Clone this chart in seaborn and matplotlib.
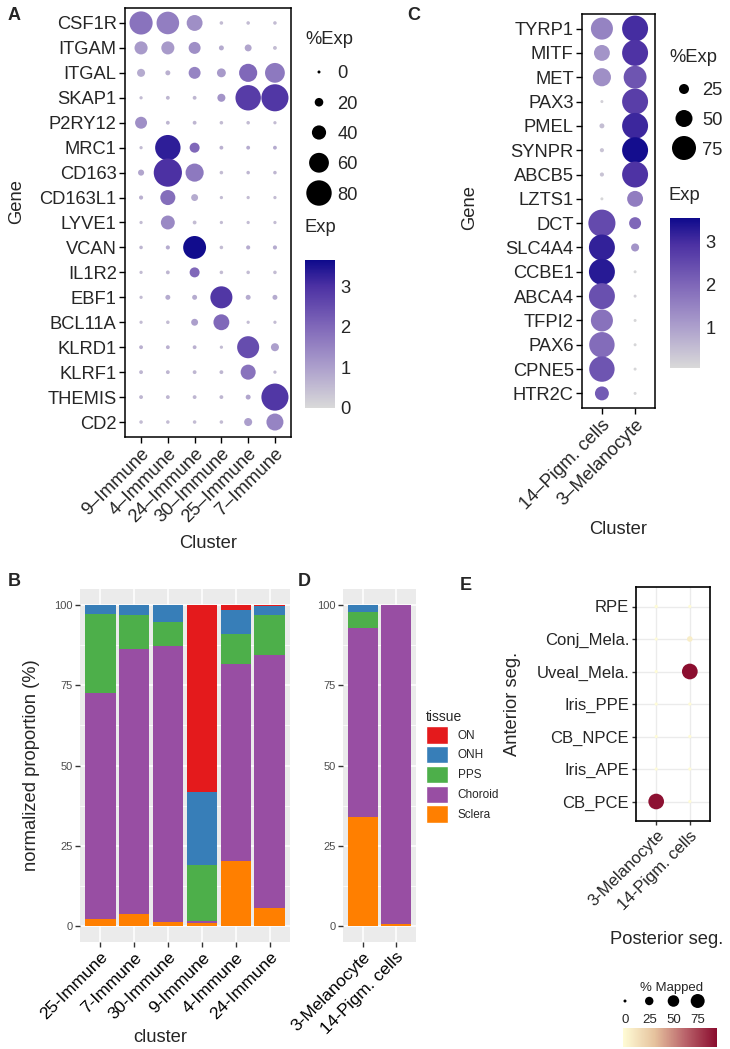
import numpy as np
import pandas as pd
import seaborn as sns
import matplotlib.pyplot as plt
from matplotlib.colors import LinearSegmentedColormap, Normalize
from matplotlib.cm import ScalarMappable
from matplotlib.patches import Patch

sns.set_style("white")
plt.rcParams['font.family'] = ['Liberation Sans', 'DejaVu Sans']

# ---------------- data ----------------
# A: immune marker dot plot
a_clusters = ['9–Immune', '4–Immune', '24–Immune', '30–Immune', '25–Immune', '7–Immune']
a_genes = ['CSF1R', 'ITGAM', 'ITGAL', 'SKAP1', 'P2RY12', 'MRC1', 'CD163', 'CD163L1',
           'LYVE1', 'VCAN', 'IL1R2', 'EBF1', 'BCL11A', 'KLRD1', 'KLRF1', 'THEMIS', 'CD2']
a_pct = [
    [72, 70, 46, 2, 2, 2],
    [36, 36, 32, 7, 14, 3],
    [18, 7, 32, 21, 54, 60],
    [1, 3, 3, 18, 80, 86],
    [32, 3, 3, 2, 2, 1],
    [1, 80, 25, 3, 3, 3],
    [11, 90, 54, 2, 2, 2],
    [4, 43, 14, 1, 1, 1],
    [1, 39, 3, 1, 1, 1],
    [2, 4, 71, 2, 4, 4],
    [1, 3, 25, 2, 2, 2],
    [1, 7, 7, 68, 7, 7],
    [1, 2, 14, 46, 1, 1],
    [3, 3, 3, 1, 68, 18],
    [3, 3, 3, 3, 43, 1],
    [3, 3, 3, 3, 7, 86],
    [2, 2, 2, 2, 18, 50],
]
a_exp = [
    [1.8, 1.6, 1.3, 0.5, 0.5, 0.5],
    [1.1, 1.1, 1.3, 0.8, 0.9, 0.5],
    [0.8, 0.7, 1.5, 1.1, 2.0, 1.7],
    [0.5, 0.6, 0.6, 1.2, 2.8, 2.9],
    [1.3, 0.6, 0.6, 0.5, 0.5, 0.5],
    [0.5, 3.3, 2.0, 0.7, 0.8, 0.8],
    [0.9, 3.0, 1.7, 0.5, 0.6, 0.6],
    [0.7, 1.9, 0.8, 0.5, 0.5, 0.5],
    [0.5, 1.4, 0.5, 0.5, 0.5, 0.5],
    [0.6, 0.8, 3.6, 0.5, 0.8, 0.8],
    [0.5, 0.6, 2.0, 0.5, 0.5, 0.5],
    [0.5, 0.8, 0.8, 2.9, 0.8, 0.8],
    [0.5, 0.5, 1.0, 2.0, 0.5, 0.5],
    [0.7, 0.7, 0.7, 0.5, 2.5, 1.0],
    [0.6, 0.6, 0.6, 0.6, 1.8, 0.5],
    [0.6, 0.6, 0.6, 0.6, 0.9, 2.9],
    [0.5, 0.5, 0.5, 0.5, 1.0, 1.5],
]
a_size_breaks = [0, 20, 40, 60, 80]
a_exp_ticks = [0, 1, 2, 3]

# C: pigment cell marker dot plot
c_clusters = ['14–Pigm. cells', '3–Melanocyte']
c_genes = ['TYRP1', 'MITF', 'MET', 'PAX3', 'PMEL', 'SYNPR', 'ABCB5', 'LZTS1', 'DCT',
           'SLC4A4', 'CCBE1', 'ABCA4', 'TFPI2', 'PAX6', 'CPNE5', 'HTR2C']
c_pct_pigm = [68, 46, 54, 0, 7, 4, 4, 0, 86, 82, 82, 82, 68, 80, 80, 39]
c_pct_mel = [82, 82, 71, 82, 82, 82, 82, 46, 32, 18, 0, 0, 0, 0, 0, 0]
c_exp_pigm = [1.5, 1.2, 1.3, 0.2, 0.5, 0.4, 0.4, 0.1, 2.5, 3.2, 3.3, 2.4, 1.8, 1.9, 2.3, 2.2]
c_exp_mel = [3.0, 2.9, 2.3, 2.7, 3.1, 3.5, 2.9, 1.6, 2.0, 1.2, 0.1, 0.2, 0.1, 0.1, 0.1, 0.1]
c_size_breaks = [25, 50, 75]
c_exp_ticks = [1, 2, 3]

# B / D: tissue proportions
tissues = ['ON', 'ONH', 'PPS', 'Choroid', 'Sclera']
tissue_colors = ['#E41A1C', '#377EB8', '#4DAF4A', '#984EA3', '#FF7F00']
b_clusters = ['25-Immune', '7-Immune', '30-Immune', '9-Immune', '4-Immune', '24-Immune']
b_on = [0.0, 0.0, 0.0, 58.3, 1.5, 0.4]
b_onh = [2.8, 3.1, 5.2, 22.6, 7.5, 2.8]
b_pps = [24.7, 10.6, 7.6, 17.7, 9.3, 12.5]
b_choroid = [70.3, 82.5, 85.9, 0.4, 61.6, 78.7]
b_sclera = [2.2, 3.8, 1.3, 1.0, 20.1, 5.6]
d_clusters = ['3-Melanocyte', '14-Pigm. cells']
d_on = [0.0, 0.0]
d_onh = [2.3, 0.0]
d_pps = [5.0, 0.0]
d_choroid = [58.6, 99.4]
d_sclera = [34.1, 0.6]

# E: mapping to anterior segment references
e_clusters = ['3-Melanocyte', '14-Pigm. cells']
e_refs = ['RPE', 'Conj_Mela.', 'Uveal_Mela.', 'Iris_PPE', 'CB_NPCE', 'Iris_APE', 'CB_PCE']
e_mel = [1.0, 0.3, 0.3, 0.3, 0.3, 0.3, 95]
e_pigm = [0.5, 9, 96, 0.5, 0.5, 0.5, 0.5]
e_size_breaks = [0, 25, 50, 75]

# ---------------- helpers ----------------
W, H = 730, 1049
fig = plt.figure(figsize=(7.3, 10.49), dpi=100)


def box(x0, y0, x1, y1):
    return [x0 / W, 1 - y1 / H, (x1 - x0) / W, (y1 - y0) / H]


def dot_area(pct):
    # radius grows linearly with percent (like scale_radius)
    d_px = 3 + 0.28 * np.asarray(pct, float)
    return (d_px * 0.72) ** 2


def map_area(pct):
    # area grows linearly with percent (like scale_size)
    d_px = np.sqrt(9 + 2.48 * np.asarray(pct, float))
    return (d_px * 0.72) ** 2


EXP_MAX = 3.64
exp_cmap = LinearSegmentedColormap.from_list(
    'exp', [(0, '#D9D9D9'), (1 / EXP_MAX, '#AC9FCC'), (2 / EXP_MAX, '#8068B9'),
            (3 / EXP_MAX, '#4C31A3'), (1, '#0E0A8C')])
map_cmap = LinearSegmentedColormap.from_list(
    'mapped', ['#FFFCD6', '#E6C39E', '#B9626A', '#8A0C2E'])

TICK = 13.2


def dotplot(ax, df, clusters, genes, norm):
    amin, amax = df['area'].min(), df['area'].max()
    sns.scatterplot(data=df, x='cluster', y='gene', hue='exp', palette=exp_cmap,
                    hue_norm=norm, size='area', sizes=(amin, amax),
                    size_norm=(amin, amax), linewidth=0, legend=False, ax=ax)
    ax.set_xlim(-0.6, len(clusters) - 0.4)
    ax.set_ylim(len(genes) - 0.4, -0.6)
    for s in ax.spines.values():
        s.set_visible(True)
        s.set_color('black')
        s.set_linewidth(1.1)
    ax.tick_params(length=4, width=1, color='black', labelsize=TICK, pad=2,
                   left=True, bottom=True)
    plt.setp(ax.get_xticklabels(), rotation=45, ha='right', va='top',
             rotation_mode='anchor')
    ax.set_xlabel('Cluster', fontsize=TICK, labelpad=6)
    ax.set_ylabel('Gene', fontsize=TICK)


def size_legend(axbox, breaks, area_fn, ylim):
    lax = fig.add_axes(box(*axbox))
    ar = area_fn(breaks)
    sns.scatterplot(x=[0] * len(breaks), y=breaks, size=ar, sizes=(ar.min(), ar.max()),
                    size_norm=(ar.min(), ar.max()), color='black', linewidth=0,
                    legend=False, clip_on=False, ax=lax)
    lax.set_xlim(-1, 1)
    lax.set_ylim(*ylim)
    lax.set_yticks(breaks)
    lax.set_yticklabels([str(b) for b in breaks])
    lax.yaxis.tick_right()
    lax.tick_params(length=0, labelsize=TICK, pad=6)
    lax.set_xticks([])
    for s in lax.spines.values():
        s.set_visible(False)
    lax.patch.set_alpha(0)
    return lax


def colorbar_v(axbox, norm, ticks):
    cax = fig.add_axes(box(*axbox))
    cb = fig.colorbar(ScalarMappable(norm=norm, cmap=exp_cmap), cax=cax)
    cb.outline.set_visible(False)
    cb.set_ticks(ticks)
    cax.tick_params(axis='y', left=True, right=True, direction='in', color='white',
                    length=6, width=0.8, labelsize=TICK, pad=4)
    return cb


def stacked(ax, clusters, values):
    rows = []
    for i, c in enumerate(clusters):
        for t, v in zip(tissues, values):
            rows.append({'cluster': c, 'tissue': t, 'pct': v[i]})
    df = pd.DataFrame(rows)
    sns.histplot(data=df, x='cluster', hue='tissue', weights='pct', multiple='stack',
                 hue_order=tissues, palette=dict(zip(tissues, tissue_colors)),
                 discrete=True, shrink=0.9, alpha=1, linewidth=0, legend=False, ax=ax)
    ax.set_facecolor('#EBEBEB')
    ax.set_xlim(-0.6, len(clusters) - 0.4)
    ax.set_ylim(-5, 105)
    ax.set_yticks([0, 25, 50, 75, 100])
    ax.set_yticks([12.5, 37.5, 62.5, 87.5], minor=True)
    ax.set_axisbelow(True)
    ax.grid(True, which='major', color='white', linewidth=1.1)
    ax.grid(True, which='minor', axis='y', color='white', linewidth=0.55)
    for s in ax.spines.values():
        s.set_visible(False)
    ax.tick_params(which='major', length=3.5, width=1, color='#333333',
                   left=True, bottom=True)
    ax.tick_params(which='minor', length=0)
    ax.tick_params(axis='y', labelsize=8, labelcolor='#4D4D4D', pad=2)
    ax.tick_params(axis='x', labelsize=12.5, labelcolor='black', pad=2)
    plt.setp(ax.get_xticklabels(), rotation=45, ha='right', va='top',
             rotation_mode='anchor')
    ax.set_ylabel('')
    ax.set_xlabel('')


# ---------------- panel A ----------------
axA = fig.add_axes(box(125, 8, 291, 437))
dfA = pd.DataFrame({'gene': np.repeat(a_genes, len(a_clusters)),
                    'cluster': a_clusters * len(a_genes),
                    'pct': np.ravel(a_pct), 'exp': np.ravel(a_exp)})
dfA['area'] = dot_area(dfA['pct'])
normA = Normalize(0, EXP_MAX)
dotplot(axA, dfA, a_clusters, a_genes, (normA.vmin, normA.vmax))
axA.yaxis.set_label_coords(-0.60, 0.55)

size_legend((309, 57, 329, 208), a_size_breaks, dot_area, (89.9, -9.9))
fig.text(305 / W, 1 - 40 / H, '%Exp', fontsize=TICK, va='center', ha='left')
fig.text(305 / W, 1 - 228 / H, 'Exp', fontsize=TICK, va='center', ha='left')
colorbar_v((305, 260, 335, 408), normA, a_exp_ticks)

# ---------------- panel C ----------------
axC = fig.add_axes(box(582, 14, 655, 408))
dfC = pd.DataFrame({'gene': list(c_genes) * 2,
                    'cluster': [c_clusters[0]] * len(c_genes) + [c_clusters[1]] * len(c_genes),
                    'pct': c_pct_pigm + c_pct_mel, 'exp': c_exp_pigm + c_exp_mel})
dfC['area'] = dot_area(dfC['pct'])
normC = Normalize(0.04, 3.56)
dotplot(axC, dfC, c_clusters, c_genes, (normC.vmin, normC.vmax))
axC.yaxis.set_label_coords(-1.42, 0.51)

size_legend((674, 72, 694, 165), c_size_breaks, dot_area, (89.4, 10.6))
fig.text(669 / W, 1 - 57 / H, '%Exp', fontsize=TICK, va='center', ha='left')
fig.text(669 / W, 1 - 195 / H, 'Exp', fontsize=TICK, va='center', ha='left')
colorbar_v((670, 218, 700, 368), normC, c_exp_ticks)

# ---------------- panel B ----------------
axB = fig.add_axes(box(80, 589, 290, 942))
stacked(axB, b_clusters, [b_on, b_onh, b_pps, b_choroid, b_sclera])
axB.set_ylabel('normalized proportion (%)', fontsize=TICK)
axB.yaxis.set_label_coords(-0.19, 0.5)
fig.text(160 / W, 1 - 1038 / H, 'cluster', fontsize=TICK, ha='center', va='center')

# ---------------- panel D ----------------
axD = fig.add_axes(box(343, 589, 416, 942))
stacked(axD, d_clusters, [d_on, d_onh, d_pps, d_choroid, d_sclera])

handles = [Patch(facecolor=c, edgecolor='white', linewidth=1) for c in tissue_colors]
fig.legend(handles, tissues, title='tissue', loc='upper left',
           bbox_to_anchor=(421 / W, 1 - 705 / H), frameon=False, fontsize=8.5,
           title_fontsize=10, handlelength=1.9, handleheight=1.9, labelspacing=0.2,
           handletextpad=0.8, alignment='left', borderaxespad=0)

# ---------------- panel E ----------------
axE = fig.add_axes(box(636, 587, 710, 821))
dfE = pd.DataFrame({'cluster': [e_clusters[0]] * len(e_refs) + [e_clusters[1]] * len(e_refs),
                    'ref': list(e_refs) * 2, 'pct': e_mel + e_pigm})
dfE['area'] = map_area(dfE['pct'])
amin, amax = dfE['area'].min(), dfE['area'].max()
sns.scatterplot(data=dfE, x='cluster', y='ref', hue='pct', palette=map_cmap,
                hue_norm=(0, 97), size='area', sizes=(amin, amax),
                size_norm=(amin, amax), linewidth=0, legend=False, ax=axE, zorder=3)
axE.set_xlim(-0.6, 1.6)
axE.set_ylim(len(e_refs) - 0.4, -0.6)
axE.set_axisbelow(True)
axE.grid(True, color='#EBEBEB', linewidth=1)
for s in axE.spines.values():
    s.set_visible(True)
    s.set_color('black')
    s.set_linewidth(1.2)
axE.tick_params(length=3, width=1, color='#333333', labelsize=12, pad=2,
                left=True, bottom=True)
plt.setp(axE.get_xticklabels(), rotation=45, ha='right', va='top',
         rotation_mode='anchor')
axE.set_ylabel('Anterior seg.', fontsize=TICK)
axE.yaxis.set_label_coords(-1.55, 0.5)
axE.set_xlabel('')
fig.text(667 / W, 1 - 940 / H, 'Posterior seg.', fontsize=TICK, ha='center', va='center')

# legend for % Mapped
lE = fig.add_axes(box(625, 992, 719, 1010))
ar = map_area(e_size_breaks)
sns.scatterplot(x=e_size_breaks, y=[0] * len(e_size_breaks), size=ar,
                sizes=(ar.min(), ar.max()), size_norm=(ar.min(), ar.max()),
                color='black', linewidth=0, legend=False, clip_on=False, ax=lE)
lE.set_xlim(0, 97)
lE.set_ylim(-1, 1)
lE.set_xticks(e_size_breaks)
lE.set_yticks([])
lE.tick_params(length=0, labelsize=9.5, pad=3)
for s in lE.spines.values():
    s.set_visible(False)
lE.patch.set_alpha(0)
lE.set_title('% Mapped', fontsize=9.5, pad=1)

caxE = fig.add_axes(box(623, 1028, 717, 1047))
cbE = fig.colorbar(ScalarMappable(norm=Normalize(0, 97), cmap=map_cmap), cax=caxE,
                   orientation='horizontal')
cbE.outline.set_visible(False)
cbE.set_ticks([25, 50, 75])
caxE.tick_params(axis='x', top=True, bottom=True, direction='in', color='white',
                 length=4, width=0.8, labelbottom=False)

# ---------------- panel letters ----------------
for lab, x, y in [('A', 8, 16), ('C', 407, 16), ('B', 8, 582), ('D', 298, 582), ('E', 460, 586)]:
    fig.text(x / W, 1 - y / H, lab, fontsize=13, fontweight='bold', ha='left', va='center')

fig.savefig('out.png', dpi=100)
